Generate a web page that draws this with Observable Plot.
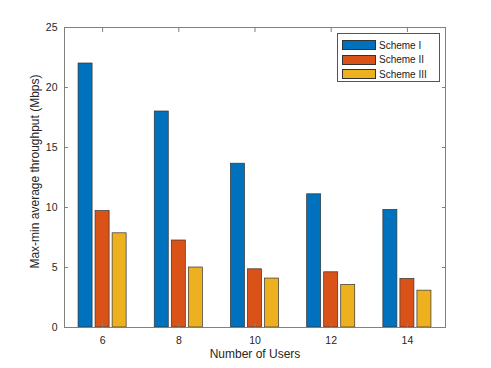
<!DOCTYPE html>
<html>
<head>
<meta charset="utf-8">
<script src="https://cdn.jsdelivr.net/npm/d3@7"></script>
<script src="https://cdn.jsdelivr.net/npm/@observablehq/plot@0.6"></script>
<style>
  html, body { margin: 0; padding: 0; background: #fff; }
  #wrap { position: relative; width: 491px; height: 368px; font-family: "Liberation Sans", Arial, sans-serif; }
  #legend { position: absolute; left: 337px; top: 33px; width: 103px; height: 49px; box-sizing: border-box;
    border: 1px solid #555; background: #fff; font-size: 10px; color: #222; padding: 4px 0 0 4px; }
  .row { display: flex; align-items: center; height: 14.5px; }
  .sw { width: 34px; height: 10px; border: 1px solid #333; margin-right: 3px; box-sizing: border-box; }
</style>
</head>
<body>
<div id="wrap"><div id="chart"></div><div id="legend"></div></div>
<script>
const users = [6, 8, 10, 12, 14];
const schemes = ["Scheme I", "Scheme II", "Scheme III"];
const schemeI = [22.0, 18.0, 13.65, 11.1, 9.8];
const schemeII = [9.7, 7.25, 4.85, 4.6, 4.05];
const schemeIII = [7.85, 5.0, 4.08, 3.55, 3.07];
const colors = ["#0072BD", "#D95319", "#EDB120"];
const yTicks = [0, 5, 10, 15, 20, 25];

const series = [schemeI, schemeII, schemeIII];
const data = [];
series.forEach((vals, s) => vals.forEach((v, i) => data.push({users: users[i], scheme: schemes[s], k: s, value: v})));

const step = 0.447, bw = 0.368;
const chart = Plot.plot({
  width: 491,
  height: 368,
  marginLeft: 64,
  marginRight: 46,
  marginTop: 27,
  marginBottom: 41,
  style: {fontFamily: "Liberation Sans, Arial, sans-serif", fontSize: "10px", color: "#262626", background: "#fff"},
  x: {domain: [5, 15], ticks: users, tickFormat: d => d, label: null},
  y: {domain: [0, 25], ticks: yTicks, label: null},
  color: {domain: schemes, range: colors},
  marks: [
    Plot.rectY(data, {
      x1: d => d.users + (d.k - 1) * step - bw / 2,
      x2: d => d.users + (d.k - 1) * step + bw / 2,
      y: "value", fill: "scheme", stroke: "#333", strokeWidth: 0.7
    }),
    Plot.frame({stroke: "#808080"}),
    Plot.axisY({ticks: yTicks, tickSize: 0, tickPadding: 7, fontSize: 10.5}),
    Plot.axisY({ticks: yTicks, tickSize: -4, text: null, stroke: "#808080"}),
    Plot.axisY({ticks: yTicks, anchor: "right", tickSize: -4, text: null, stroke: "#808080"}),
    Plot.axisX({ticks: users, tickSize: 0, tickPadding: 9, fontSize: 10.5, tickFormat: d => d}),
    Plot.axisX({ticks: users, tickSize: -4, text: null, stroke: "#808080"}),
    Plot.axisX({ticks: users, anchor: "top", tickSize: -4, text: null, stroke: "#808080"}),
    Plot.text(["Max-min average throughput (Mbps)"], {frameAnchor: "left", textAnchor: "middle", dx: -29, dy: -6, rotate: -90, fontSize: 12, fill: "#262626"}),
    Plot.text(["Number of Users"], {frameAnchor: "bottom", dy: 30, fontSize: 12, fill: "#262626"})
  ]
});
document.getElementById("chart").appendChild(chart);

const leg = document.getElementById("legend");
schemes.forEach((s, i) => {
  const r = document.createElement("div");
  r.className = "row";
  r.innerHTML = `<div class="sw" style="background:${colors[i]}"></div><span>${s}</span>`;
  leg.appendChild(r);
});
</script>
</body>
</html>
